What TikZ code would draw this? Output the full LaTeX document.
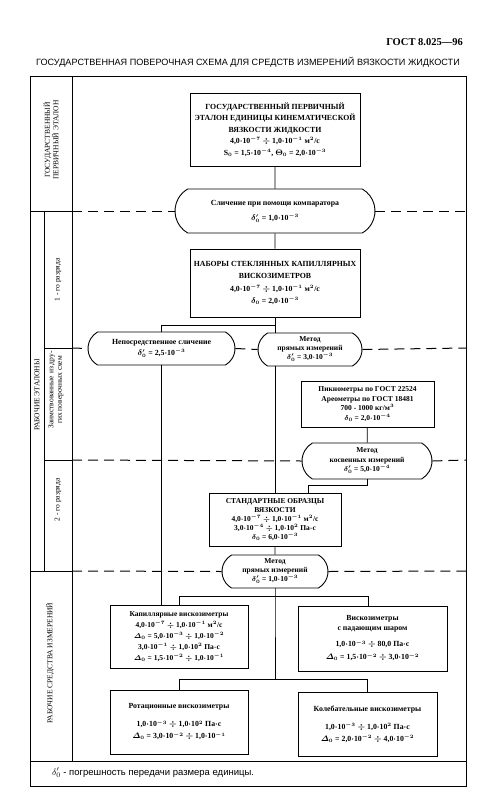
\documentclass[tikz,border=0pt]{standalone}
\usepackage{amsmath}
\usepackage{fontspec}
\setmainfont{Liberation Serif}
\newfontfamily\arial{Liberation Sans}
\usetikzlibrary{shapes.misc}
\newcommand{\pw}[1]{$\cdot$10$^{#1}$}
\newcommand{\razd}{ $\div$ }
\tikzset{
  blok/.style={draw, line width=0.9pt, align=center, inner sep=1pt,
    font=\fontsize{7.8}{10}\selectfont\bfseries\boldmath},
  oval/.style={blok, rounded rectangle, rounded rectangle arc length=120},
  ramka/.style={line width=0.7pt},
  razdel/.style={line width=1pt, dash pattern=on 10pt off 6pt},
  svyaz/.style={line width=0.8pt},
  stolb/.style={rotate=90, align=center, inner sep=0pt, font=\fontsize{7.5}{8.5}\selectfont}
}

\begin{document}
\begin{tikzpicture}[x=1pt,y=-1pt]
  \useasboundingbox (0,0) rectangle (502,809);

  \node[anchor=base east, inner sep=0pt, font=\fontsize{10.5}{12}\selectfont\bfseries] (gost) at (463,45) {ГОСТ 8.025—96};
  \node[anchor=base, inner sep=0pt, font=\arial\fontsize{9.1}{11}\selectfont] (zagl) at (248,65)
    {ГОСУДАРСТВЕННАЯ ПОВЕРОЧНАЯ СХЕМА ДЛЯ СРЕДСТВ ИЗМЕРЕНИЙ ВЯЗКОСТИ ЖИДКОСТИ};

  \draw[ramka] (30,76) rectangle (466,786);
  \draw[ramka] (30,761) -- (466,761);
  \draw[ramka] (72,76) -- (72,761);
  \draw[ramka] (30,211) -- (72,211);
  \draw[ramka] (30,571) -- (72,571);
  \draw[ramka] (44,211) -- (44,571);
  \draw[ramka] (44,348) -- (72,348);
  \draw[ramka] (44,460) -- (72,460);

  \node[stolb] (gpe)  at (51,140) {ГОСУДАРСТВЕННЫЙ\\ПЕРВИЧНЫЙ ЭТАЛОН};
  \node[stolb] (re)   at (37,395) {РАБОЧИЕ ЭТАЛОНЫ};
  \node[stolb] (r1)   at (58,280) {1 - го разряда};
  \node[stolb] (zaim) at (56,390) {Заимствованные из дру-\\гих поверочных схем};
  \node[stolb] (r2)   at (58,500) {2 - го разряда};
  \node[stolb] (rsi)  at (50,663) {РАБОЧИЕ СРЕДСТВА ИЗМЕРЕНИЙ};

  \node[blok, minimum width=170, minimum height=73, font=\fontsize{7.8}{11.6}\selectfont\bfseries\boldmath] (etalon) at (275,129.5)
    {ГОСУДАРСТВЕННЫЙ ПЕРВИЧНЫЙ\\ЭТАЛОН ЕДИНИЦЫ КИНЕМАТИЧЕСКОЙ\\ВЯЗКОСТИ ЖИДКОСТИ\\
     4,0\pw{-7}\razd 1,0\pw{-1} м$^2$/с\\S$_0$ = 1,5\pw{-4}, $\Theta_0$ = 2,0\pw{-3}};
  \node[oval, minimum width=202, minimum height=44] (sravn) at (275,211)
    {Сличение при помощи компаратора\\[5pt]$\delta'_0$ = 1,0\pw{-3}};
  \node[blok, minimum width=170, minimum height=68, font=\fontsize{7.8}{12.5}\selectfont\bfseries\boldmath] (nabory) at (275,283)
    {НАБОРЫ СТЕКЛЯННЫХ КАПИЛЛЯРНЫХ\\ВИСКОЗИМЕТРОВ\\4,0\pw{-7}\razd 1,0\pw{-1} м$^2$/с\\$\delta_0$ = 2,0\pw{-3}};
  \node[oval, minimum width=149, minimum height=33] (nepos) at (161.5,348.5)
    {Непосредственное сличение\\[1.5pt]$\delta'_0$ = 2,5\pw{-3}};
  \node[oval, minimum width=106, minimum height=33, font=\fontsize{7.5}{9}\selectfont\bfseries\boldmath] (pryam1) at (310,349.5)
    {Метод\\прямых измерений\\$\delta'_0$ = 3,0\pw{-3}};
  \node[blok, minimum width=133, minimum height=46, font=\fontsize{7.5}{9.5}\selectfont\bfseries\boldmath] (pikno) at (367.5,404)
    {Пикнометры по ГОСТ 22524\\Ареометры по ГОСТ 18481\\700 - 1000 кг/м$^3$\\$\delta_0$ = 2,0\pw{-4}};
  \node[oval, minimum width=132, minimum height=36, font=\fontsize{7.5}{9.5}\selectfont\bfseries\boldmath] (kosv) at (367,461)
    {Метод\\косвенных измерений\\$\delta'_0$ = 5,0\pw{-4}};
  \node[blok, minimum width=132, minimum height=53, font=\fontsize{7.5}{9.2}\selectfont\bfseries\boldmath] (standart) at (275,519.5)
    {СТАНДАРТНЫЕ ОБРАЗЦЫ\\ВЯЗКОСТИ\\4,0\pw{-7}\razd 1,0\pw{-1} м$^2$/с\\3,0\pw{-4}\razd 1,0\pw{2} Па$\cdot$с\\$\delta_0$ = 6,0\pw{-3}};
  \node[oval, minimum width=108, minimum height=33, font=\fontsize{7.5}{9}\selectfont\bfseries\boldmath] (pryam2) at (275,571.5)
    {Метод\\прямых измерений\\$\delta'_0$ = 1,0\pw{-3}};
  \node[blok, minimum width=138, minimum height=63, font=\fontsize{7.5}{11}\selectfont\bfseries\boldmath] (kapill) at (179,636.5)
    {Капиллярные вискозиметры\\4,0\pw{-7}\razd 1,0\pw{-1} м$^2$/с\\$\varDelta_0$ = 5,0\pw{-3}\razd 1,0\pw{-2}\\
     3,0\pw{-1}\razd 1,0\pw{2} Па$\cdot$с\\$\varDelta_0$ = 1,5\pw{-2}\razd 1,0\pw{-1}};
  \node[blok, minimum width=149, minimum height=65] (padshar) at (372.5,638.5)
    {Вискозиметры\\с падающим шаром\\[6pt]1,0\pw{-3}\razd 80,0 Па$\cdot$с\\[3pt]$\varDelta_0$ = 1,5\pw{-2}\razd 3,0\pw{-2}};
  \node[blok, minimum width=138, minimum height=64] (rot) at (179,722)
    {Ротационные вискозиметры\\[8pt]1,0\pw{-3}\razd 1,0\pw{2} Па$\cdot$с\\[2pt]$\varDelta_0$ = 3,0\pw{-2}\razd 1,0\pw{-1}};
  \node[blok, minimum width=139, minimum height=64] (koleb) at (367.5,724)
    {Колебательные вискозиметры\\[8pt]1,0\pw{-3}\razd 1,0\pw{2} Па$\cdot$с\\[2pt]$\varDelta_0$ = 2,0\pw{-2}\razd 4,0\pw{-2}};

  \draw[svyaz] (etalon) -- (sravn);
  \draw[svyaz] (sravn) -- (nabory);
  \draw[svyaz] (nabory.south) -- (nabory.south |- pryam1.north);
  \draw[svyaz] (nabory.south) ++(0,8) -| (nepos.north);
  \draw[svyaz] (nepos.south) -- (nepos.south |- kapill.north);
  \draw[svyaz] (nabory.south |- pryam1.south) -- (standart.north);
  \draw[svyaz] (pikno) -- (kosv);
  \draw[svyaz] (kosv.south) -- ++(0,6) -| ([xshift=33pt]standart.north);
  \draw[svyaz] (standart) -- (pryam2);
  \draw[svyaz] (pryam2.south) -- ++(0,8) coordinate (razv1) -- ++(0,83) coordinate (razv2);
  \draw[svyaz] (kapill.north) |- (razv1) -| ([xshift=-4pt]padshar.north);
  \draw[svyaz] (rot.north) |- (razv2) -| (koleb.north);

  \draw[razdel] (72,211) -- (sravn.west);
  \draw[razdel] (sravn.east) -- (466,211);
  \draw[razdel] (72,348) -- (nepos.west);
  \draw[razdel] (nepos.east) -- (pryam1.west);
  \draw[razdel] (pryam1.east) -- (466,348);
  \draw[razdel] (72,460) -- (kosv.west);
  \draw[razdel] (kosv.east) -- (466,460);
  \draw[razdel] (72,571) -- (pryam2.west);
  \draw[razdel] (pryam2.east) -- (466,571);

  \node[anchor=base west, inner sep=0pt, font=\arial\fontsize{9.5}{11}\selectfont] (snoska) at (52,775)
    {$\delta'_0$ - погрешность передачи размера единицы.};
\end{tikzpicture}
\end{document}
